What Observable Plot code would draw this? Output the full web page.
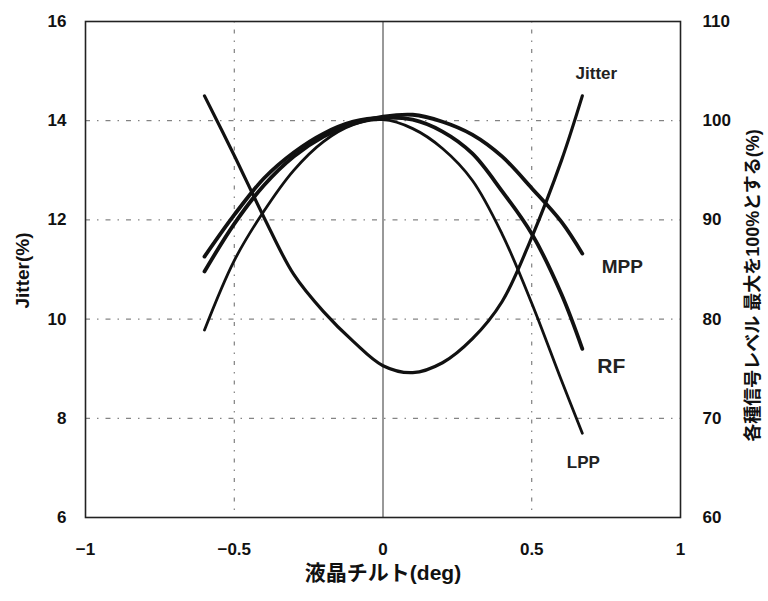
<!DOCTYPE html>
<html><head><meta charset="utf-8">
<script src="https://cdn.jsdelivr.net/npm/d3@7"></script>
<script src="https://cdn.jsdelivr.net/npm/@observablehq/plot@0.6"></script>
<style>body{margin:0;background:#fff}</style>
</head><body><div id="chart"></div>
<script>
// tilt (deg)
const tilt   = [-0.6, -0.5, -0.4, -0.3, -0.2, -0.1, 0, 0.1, 0.2, 0.3, 0.4, 0.5, 0.6, 0.67];
// Jitter (%), left axis
const jitter = [14.5, 13.3, 12.05, 10.9, 10.15, 9.55, 9.06, 8.92, 9.12, 9.6, 10.35, 11.65, 13.2, 14.5];
// signal levels (% of max), right axis
const mpp    = [84.8, 89.6, 93.5, 96.4, 98.4, 99.7, 100.4, 100.6, 99.9, 98.6, 96.4, 93.2, 89.8, 86.6];
const rf     = [86.3, 90.5, 94.2, 96.8, 98.7, 99.9, 100.3, 100.1, 98.9, 96.7, 92.9, 88.6, 82.5, 77.0];
const lpp    = [78.9, 85.9, 90.9, 95.0, 97.9, 99.6, 100.1, 99.2, 97.2, 94.0, 88.6, 81.6, 73.8, 68.5];

const xTicks = [-1, -0.5, 0, 0.5, 1];
const leftTicks = [6, 8, 10, 12, 14, 16];
const rightTicks = [60, 70, 80, 90, 100, 110];
const gridX = [-0.5, 0.5];
const gridY = [8, 10, 12, 14];

const xLabel = "液晶チルト(deg)";
const yLabelLeft = "Jitter(%)";
const yLabelRight = "各種信号レベル 最大を100%とする(%)";

// right axis (60..110) mapped onto left scale (6..16)
const toLeft = v => 6 + (v - 60) / 5;
const fromLeft = y => Math.round((y - 6) * 5 + 60);
const fmtX = v => (v < 0 ? "−" : "") + Math.abs(v);

const jitterRows = tilt.map((x, i) => ({x, y: jitter[i]}));
const mk = arr => tilt.map((x, i) => ({x, y: toLeft(arr[i])}));
const mppRows = mk(mpp), rfRows = mk(rf), lppRows = mk(lpp);

const font = "'Liberation Sans', 'Noto Sans CJK JP', sans-serif";
const dash = "5,7,1.5,7";

const chart = Plot.plot({
  width: 768, height: 601,
  marginLeft: 85, marginRight: 88, marginTop: 21, marginBottom: 84,
  style: {fontFamily: font, background: "#fff", color: "#111"},
  x: {domain: [-1, 1]},
  y: {domain: [6, 16]},
  marks: [
    Plot.gridX(gridX, {stroke: "#666", strokeOpacity: 1, strokeDasharray: "1.5,7,4,7"}),
    Plot.gridY(gridY, {stroke: "#666", strokeOpacity: 1, strokeDasharray: dash}),
    Plot.ruleX([0], {stroke: "#333", strokeWidth: 1}),
    Plot.axisX({ticks: xTicks, tickFormat: fmtX, tickSize: 0, tickPadding: 25, fontSize: 17, fontWeight: "bold", label: null}),
    Plot.axisY({ticks: leftTicks, tickSize: 0, tickPadding: 19, fontSize: 17, fontWeight: "bold", label: null}),
    Plot.axisY({anchor: "right", ticks: rightTicks.map(toLeft), tickFormat: fromLeft, tickSize: 0, tickPadding: 22, fontSize: 17, fontWeight: "bold", label: null}),
    Plot.line(lppRows, {x: "x", y: "y", curve: "catmull-rom", stroke: "#111", strokeWidth: 2.8}),
    Plot.line(rfRows, {x: "x", y: "y", curve: "catmull-rom", stroke: "#111", strokeWidth: 3.8}),
    Plot.line(mppRows, {x: "x", y: "y", curve: "catmull-rom", stroke: "#111", strokeWidth: 3.8}),
    Plot.line(jitterRows, {x: "x", y: "y", curve: "catmull-rom", stroke: "#111", strokeWidth: 3.2}),
    Plot.text([jitterRows.at(-1)], {x: "x", y: "y", text: () => "Jitter", dx: 14, dy: -22, fontSize: 17, fontWeight: "bold", fill: "#222"}),
    Plot.text([mppRows.at(-1)], {x: "x", y: "y", text: () => "MPP", dx: 40, dy: 13, fontSize: 19, fontWeight: "bold", fill: "#222"}),
    Plot.text([rfRows.at(-1)], {x: "x", y: "y", text: () => "RF", dx: 29, dy: 17, fontSize: 21, fontWeight: "bold", fill: "#222"}),
    Plot.text([lppRows.at(-1)], {x: "x", y: "y", text: () => "LPP", dx: 1, dy: 29, fontSize: 17, fontWeight: "bold", fill: "#222"}),
    Plot.text([xLabel], {frameAnchor: "bottom", dy: 62, textAnchor: "middle", fontSize: 21, fontWeight: "bold", fill: "#111"}),
    Plot.text([yLabelLeft], {frameAnchor: "left", dx: -63, dy: 1, textAnchor: "middle", rotate: -90, fontSize: 19, fontWeight: "bold", fill: "#111"}),
    Plot.text([yLabelRight], {frameAnchor: "right", dx: 73, dy: 16, textAnchor: "middle", rotate: -90, fontSize: 18, fontWeight: "bold", fill: "#111"}),
    Plot.frame({stroke: "#222", strokeWidth: 1.6})
  ]
});
document.getElementById("chart").appendChild(chart);
</script>
</body></html>
